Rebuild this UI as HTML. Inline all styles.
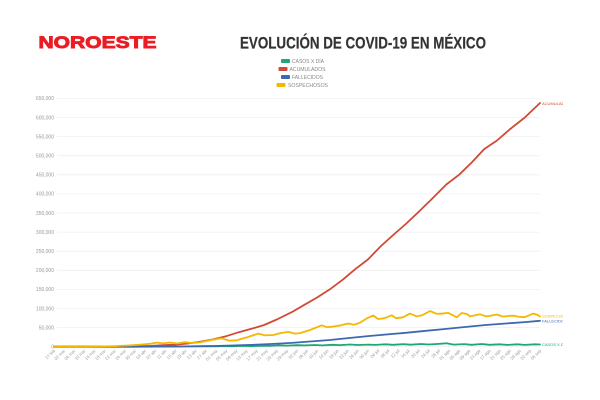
<!DOCTYPE html>
<html>
<head>
<meta charset="utf-8">
<style>
html,body{margin:0;padding:0;background:#fff;}
svg{display:block;}
</style>
</head>
<body>
<svg width="600" height="400" viewBox="0 0 600 400" xmlns="http://www.w3.org/2000/svg" font-family="Liberation Sans, sans-serif">
<rect width="600" height="400" fill="#fff"/>
<defs>
<clipPath id="clipR"><rect x="0" y="0" width="563" height="400"/></clipPath>
</defs>

<!-- Logo -->
<text x="38.5" y="48" font-size="17" font-weight="bold" fill="#ec1c24" stroke="#ec1c24" stroke-width="0.9" textLength="118" lengthAdjust="spacingAndGlyphs">NOROESTE</text>

<!-- Title -->
<text x="240" y="48.5" font-size="17" font-weight="bold" fill="#333" stroke="#333" stroke-width="0.2" textLength="246" lengthAdjust="spacingAndGlyphs">EVOLUCIÓN DE COVID-19 EN MÉXICO</text>

<!-- Legend -->
<g font-size="5.3" fill="#888">
<rect x="281" y="59" width="9" height="4" rx="1" fill="#1fa774"/>
<text x="292" y="63" textLength="32" lengthAdjust="spacingAndGlyphs">CASOS X DÍA</text>
<rect x="278.5" y="67" width="9" height="4" rx="1" fill="#d04a35"/>
<text x="289.5" y="71" textLength="36" lengthAdjust="spacingAndGlyphs">ACUMULADOS</text>
<rect x="281" y="75" width="9" height="4" rx="1" fill="#3d69b1"/>
<text x="292" y="79" textLength="31" lengthAdjust="spacingAndGlyphs">FALLECIDOS</text>
<rect x="276.5" y="83" width="9" height="4" rx="1" fill="#f5b800"/>
<text x="288" y="87" textLength="40" lengthAdjust="spacingAndGlyphs">SOSPECHOSOS</text>
</g>

<!-- Gridlines -->
<g stroke="#efefef" stroke-width="0.8">
<line x1="57" y1="346.7" x2="540" y2="346.7"/>
<line x1="57" y1="327.6" x2="540" y2="327.6"/>
<line x1="57" y1="308.5" x2="540" y2="308.5"/>
<line x1="57" y1="289.4" x2="540" y2="289.4"/>
<line x1="57" y1="270.3" x2="540" y2="270.3"/>
<line x1="57" y1="251.2" x2="540" y2="251.2"/>
<line x1="57" y1="232.1" x2="540" y2="232.1"/>
<line x1="57" y1="213.0" x2="540" y2="213.0"/>
<line x1="57" y1="193.9" x2="540" y2="193.9"/>
<line x1="57" y1="174.8" x2="540" y2="174.8"/>
<line x1="57" y1="155.7" x2="540" y2="155.7"/>
<line x1="57" y1="136.6" x2="540" y2="136.6"/>
<line x1="57" y1="117.5" x2="540" y2="117.5"/>
<line x1="57" y1="98.4" x2="540" y2="98.4"/>
</g>

<!-- Y labels -->
<g font-size="5" fill="#999" text-anchor="end">
<text x="54" y="348.5">0</text>
<text x="54" y="329.4">50,000</text>
<text x="54" y="310.3">100,000</text>
<text x="54" y="291.2">150,000</text>
<text x="54" y="272.1">200,000</text>
<text x="54" y="253.0">250,000</text>
<text x="54" y="233.9">300,000</text>
<text x="54" y="214.8">350,000</text>
<text x="54" y="195.7">400,000</text>
<text x="54" y="176.6">450,000</text>
<text x="54" y="157.5">500,000</text>
<text x="54" y="138.4">550,000</text>
<text x="54" y="119.3">600,000</text>
<text x="54" y="100.2">650,000</text>
</g>

<!-- X labels -->
<g font-size="4.3" fill="#999" text-anchor="end">
<text transform="translate(55.5,351) rotate(-45)">27 feb</text>
<text transform="translate(65.6,351) rotate(-45)">02 mar</text>
<text transform="translate(75.75,351) rotate(-45)">06 mar</text>
<text transform="translate(85.9,351) rotate(-45)">10 mar</text>
<text transform="translate(96,351) rotate(-45)">14 mar</text>
<text transform="translate(106.1,351) rotate(-45)">18 mar</text>
<text transform="translate(116.25,351) rotate(-45)">22 mar</text>
<text transform="translate(126.4,351) rotate(-45)">26 mar</text>
<text transform="translate(136.5,351) rotate(-45)">30 mar</text>
<text transform="translate(146.6,351) rotate(-45)">03 abr</text>
<text transform="translate(156.75,351) rotate(-45)">07 abr</text>
<text transform="translate(166.9,351) rotate(-45)">11 abr</text>
<text transform="translate(177,351) rotate(-45)">15 abr</text>
<text transform="translate(187.1,351) rotate(-45)">19 abr</text>
<text transform="translate(197.25,351) rotate(-45)">23 abr</text>
<text transform="translate(207.4,351) rotate(-45)">27 abr</text>
<text transform="translate(217.5,351) rotate(-45)">01 may</text>
<text transform="translate(227.6,351) rotate(-45)">05 may</text>
<text transform="translate(237.75,351) rotate(-45)">09 may</text>
<text transform="translate(247.9,351) rotate(-45)">13 may</text>
<text transform="translate(258,351) rotate(-45)">17 may</text>
<text transform="translate(268.1,351) rotate(-45)">21 may</text>
<text transform="translate(278.25,351) rotate(-45)">25 may</text>
<text transform="translate(288.4,351) rotate(-45)">29 may</text>
<text transform="translate(298.5,351) rotate(-45)">02 jun</text>
<text transform="translate(308.6,351) rotate(-45)">06 jun</text>
<text transform="translate(318.75,351) rotate(-45)">10 jun</text>
<text transform="translate(328.9,351) rotate(-45)">14 jun</text>
<text transform="translate(339,351) rotate(-45)">18 jun</text>
<text transform="translate(349.1,351) rotate(-45)">22 jun</text>
<text transform="translate(359.25,351) rotate(-45)">26 jun</text>
<text transform="translate(369.4,351) rotate(-45)">30 jun</text>
<text transform="translate(379.5,351) rotate(-45)">04 jul</text>
<text transform="translate(389.6,351) rotate(-45)">08 jul</text>
<text transform="translate(399.75,351) rotate(-45)">12 jul</text>
<text transform="translate(409.9,351) rotate(-45)">16 jul</text>
<text transform="translate(420,351) rotate(-45)">20 jul</text>
<text transform="translate(430.1,351) rotate(-45)">24 jul</text>
<text transform="translate(440.25,351) rotate(-45)">28 jul</text>
<text transform="translate(450.4,351) rotate(-45)">01 ago</text>
<text transform="translate(460.5,351) rotate(-45)">05 ago</text>
<text transform="translate(470.6,351) rotate(-45)">09 ago</text>
<text transform="translate(480.75,351) rotate(-45)">13 ago</text>
<text transform="translate(490.9,351) rotate(-45)">17 ago</text>
<text transform="translate(501,351) rotate(-45)">21 ago</text>
<text transform="translate(511.1,351) rotate(-45)">25 ago</text>
<text transform="translate(521.25,351) rotate(-45)">29 ago</text>
<text transform="translate(531.4,351) rotate(-45)">02 sep</text>
<text transform="translate(541.5,351) rotate(-45)">06 sep</text>
</g>

<!-- Series -->
<g fill="none" stroke-width="1.8" stroke-linejoin="round" stroke-linecap="round">
<!-- CASOS X DIA -->
<polyline stroke="#1fa774" points="54,346.7 129.9,346.7 137.5,346.6 155.3,346.6 173,346.5 190.7,346.4 208.4,346.2 216,346.3 226.1,346.1 233.7,346.2 243.8,345.9 251.4,346.05 261.6,345.8 269.2,345.9 279.3,345.4 286.9,345.6 297,345.2 304.6,345.4 314.7,345.0 322.3,345.4 332.4,344.8 340,345.1 350.2,344.5 357.8,345.0 367.9,344.6 375.5,344.9 385.6,344.3 393.2,344.8 403.3,344.2 410.9,344.7 421,344.0 428.6,344.5 438.75,343.9 446.3,343.3 453.9,344.6 464.1,344.1 471.7,344.8 481.8,344.0 489.4,344.8 499.5,344.3 507.1,344.9 517.2,344.3 524.8,344.9 534.9,344.3 540,344.5"/>
<!-- ACUMULADOS -->
<polyline stroke="#d04a35" points="54,346.7 97,346.7 109.7,346.6 122.3,346.5 137.5,346.2 150.2,345.9 162.8,345.2 175.5,344.6 188.2,343.5 200.8,341.6 213.5,339.2 226.1,336.2 238.8,332.2 251.4,328.8 264.1,325 276.8,319.5 291.9,312.1 304.6,304.7 317.3,297.4 329.9,289.3 342.6,279.8 355.2,269.2 367.9,259.5 380.5,246.5 393.2,235 405.8,224 418.5,212 431.2,199.6 446.3,184.5 459,174.8 471.7,162.5 484.3,149 497,140.5 509.6,129.5 524.8,117.5 540,103"/>
<!-- FALLECIDOS -->
<polyline stroke="#3d69b1" points="54,346.7 137.5,346.7 175.5,346.5 213.5,346.0 232,345.5 251.4,344.9 271,344 291.9,342.9 310,341.5 329.9,340.0 348,338.1 367.9,336.1 386,334.5 405.8,332.8 426,330.8 446.3,328.9 465,327 484.3,325.1 504,323.6 524.8,322.1 540,320.8"/>
<!-- SOSPECHOSOS -->
<polyline stroke="#f5b800" points="54,346.7 80,346.7 100,346.5 115,346.1 128,345.5 140,344.7 150,343.8 157,342.6 163,343.4 170,342.5 177,343.5 185,342.2 192,343.0 200,342.4 210,340.2 221.7,338.3 229,340.6 236.7,340.3 248,337 258.3,333.6 265,335.4 273.3,335.0 281,333 288.3,331.9 295,333.6 300,333.1 310,330 321.7,325.3 327,327.2 333.3,326.5 341,325.3 348.3,323.5 354,324.8 360,322.7 367,318.3 373.3,315.5 378,319 384,318.3 391.7,315.3 396,318.2 403,317.3 410,313.6 416.7,316.4 422,315.3 430,311 436,313.6 440,313.8 448.3,312.9 452,314.8 456.7,317.3 461.7,313 467,314 470,316.4 480,314.3 486,316.3 490,315.9 496.7,314.5 503,316.6 508,316 513.3,315.7 519,316.8 525,317.1 533.3,313.6 537,314.6 540,316.5"/>
</g>

<!-- End labels -->
<g font-size="4" clip-path="url(#clipR)">
<text x="542" y="105" fill="#d04a35">ACUMULADOS</text>
<text x="542" y="317.6" fill="#f5b800">SOSPECHOSOS</text>
<text x="542" y="322.4" fill="#3d69b1">FALLECIDOS</text>
<text x="542" y="346.1" fill="#1fa774">CASOS X DÍA</text>
</g>
</svg>
</body>
</html>
